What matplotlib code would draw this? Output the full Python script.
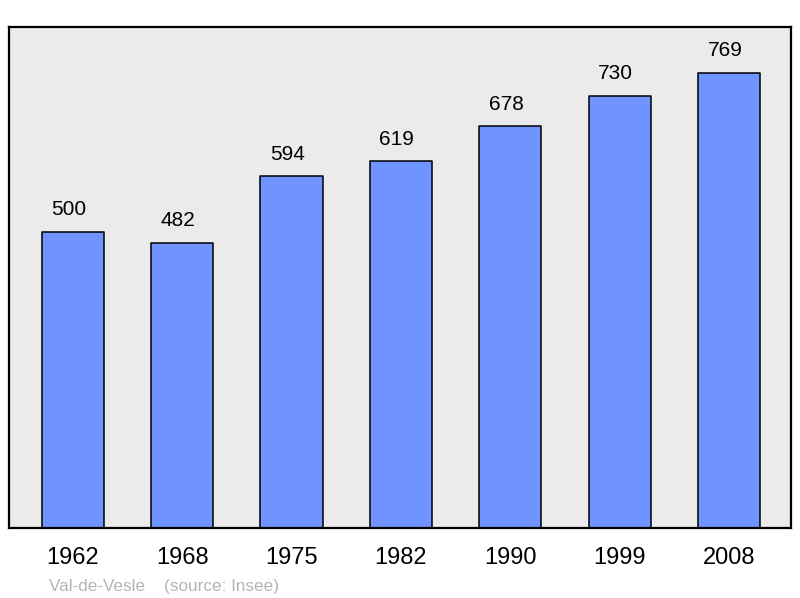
import numpy as np
import matplotlib.pyplot as plt

# Population data
years = ['1962', '1968', '1975', '1982', '1990', '1999', '2008']
population = [500, 482, 594, 619, 678, 730, 769]

plt.rcParams['font.family'] = ['Liberation Sans', 'DejaVu Sans']

fig = plt.figure(figsize=(8, 5.98), dpi=100)
ax = fig.add_axes([9 / 800, 70 / 598, 782 / 800, 501 / 598])
ax.set_facecolor('#ebebeb')

x = np.arange(len(years))
ax.bar(x, population, width=0.57, color='#7094ff', edgecolor='black',
       linewidth=1.1, joinstyle='round')

# value labels sit a bit left of the bar centre, like the original
for xi, v in zip(x, population):
    ax.annotate(str(v), (xi, v), xytext=(-3, 9), textcoords='offset points',
                ha='center', va='bottom', fontsize=15)

ax.set_xlim(-0.585, 6.567)
ax.set_ylim(0, 846)
ax.set_xticks(x)
ax.set_xticklabels(years, fontsize=17)
ax.tick_params(axis='x', length=0, pad=13.5)
ax.set_yticks([])
for s in ax.spines.values():
    s.set_linewidth(1.6)

fig.text(49 / 800, 1 - 586 / 598, 'Val-de-Vesle    (source: Insee)',
         color='#b4b4b4', fontsize=12.3, ha='left', va='center')

fig.savefig('out.png', dpi=100)
